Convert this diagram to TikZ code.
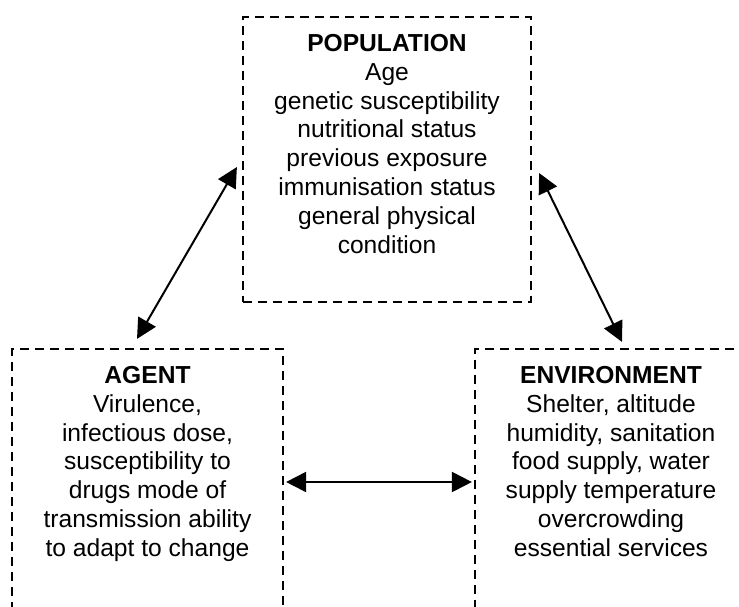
\documentclass[tikz,border=0pt]{standalone}
\usepackage{fontspec}
\setmainfont{Liberation Sans}
\usetikzlibrary{positioning,arrows.meta}

\begin{document}
\begin{tikzpicture}[
    x=0.5pt, y=-0.5pt,
    block/.style={rectangle,draw=black,line width=1.1pt,dash pattern=on 4.5pt off 3pt,inner sep=0pt},
    blocktext/.style={align=center,inner sep=0pt,font=\fontsize{12.3}{14.4}\selectfont},
    arrow/.style={{Triangle[length=10pt,width=10pt]}-{Triangle[length=10pt,width=10pt]},line width=1pt}
]

\clip (0,0) rectangle (739,606);

% the three dashed frames (lower two run off the page)
\node[block,minimum width=144pt,minimum height=142.5pt] (pop) at (387,159.5) {};
\node[block,minimum width=135.5pt,minimum height=150pt] (agent) at (147.5,499) {};
\node[block,minimum width=136pt,minimum height=150pt] (env) at (611,499) {};

\node[blocktext,below=9pt of pop.north] (poptext) {\textbf{POPULATION}\\Age\\genetic susceptibility\\nutritional status\\previous exposure\\immunisation status\\general physical\\condition};
\node[blocktext,below=9pt of agent.north] (agenttext) {\textbf{AGENT}\\Virulence,\\infectious dose,\\susceptibility to\\drugs mode of\\transmission ability\\to adapt to change};
\node[blocktext,below=9pt of env.north] (envtext) {\textbf{ENVIRONMENT}\\Shelter, altitude\\humidity, sanitation\\food supply, water\\supply temperature\\overcrowding\\essential services};

\draw[arrow] ([shift={(-10.5,-9)}]agent.north) -- ([shift={(-5,7.5)}]pop.west);
\draw[arrow] ([shift={(7,13.5)}]pop.east) -- ([shift={(11,-6)}]env.north);
\draw[arrow] ([shift={(2,-17)}]agent.east) -- ([shift={(-2,-17)}]env.west);

\end{tikzpicture}
\end{document}
